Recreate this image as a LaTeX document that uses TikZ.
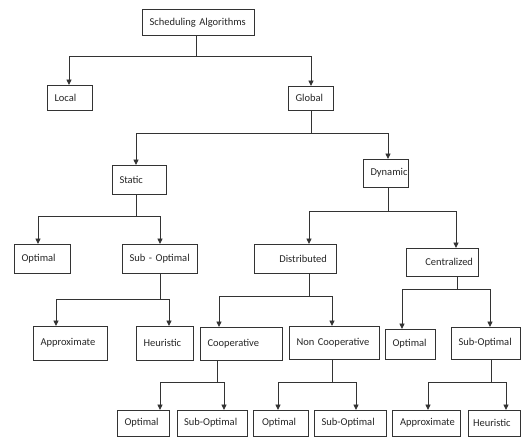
\documentclass[tikz,border=0pt]{standalone}
\usepackage{fontspec}
\setmainfont{Carlito}
\usetikzlibrary{arrows.meta}
\tikzset{
  x=1pt, y=-1pt,
  box/.style={draw=black!80, line width=1pt, fill=white, anchor=north west, outer sep=0pt,
    inner xsep=7.5pt, inner ysep=0pt, align=left, text=black!85,
    font=\fontsize{10.5}{12}\selectfont},
  conn/.style={draw=black!80, line width=0.9pt},
  arr/.style={conn, -{Triangle[length=5.5pt,width=5pt]}}
}
\newcommand\branchconn[7]{%
  % #1 parent, #2 left child, #3 right child, #4 drop x, #5 bar y, #6 left x, #7 right x
  \coordinate (#1d) at (#4,#5);
  \coordinate (#1l) at (#6,#5);
  \coordinate (#1r) at (#7,#5);
  \draw[conn] (#1d |- #1.south) -- (#1d);
  \draw[conn] (#1l) -- (#1r);
  \draw[arr] (#1l) -- (#1l |- #2.north);
  \draw[arr] (#1r) -- (#1r |- #3.north);
}
\begin{document}
\begin{tikzpicture}
\clip (0,0) rectangle (521,436);
\fill[white] (0,0) rectangle (521,436);

% level 0
\node[box, minimum width=112pt, minimum height=26pt, text width=97pt] (sa) at (142,10) {\mbox{Scheduling Algorithms}};
% level 1
\node[box, minimum width=45pt, minimum height=25pt, text width=30pt] (local) at (47,85) {Local};
\node[box, minimum width=45pt, minimum height=24pt, text width=30pt] (global) at (288,86) {Global};
% level 2
\node[box, minimum width=54pt, minimum height=29pt, text width=39pt] (static) at (112,165) {Static};
\node[box, minimum width=45pt, minimum height=28pt, text width=30pt] (dynamic) at (363,159) {Dynamic};
% level 3
\node[box, minimum width=56pt, minimum height=29pt, text width=41pt] (sopt) at (14,244) {Optimal};
\node[box, minimum width=75pt, minimum height=29pt, text width=60pt] (ssub) at (122,244) {\mbox{Sub - Optimal}};
\node[box, minimum width=82pt, minimum height=29pt, text width=64pt, inner xsep=9pt, align=right] (dist) at (254,244) {Distributed};
\node[box, minimum width=72pt, minimum height=28pt, text width=62pt, inner xsep=5pt, align=right] (cent) at (406,248) {Centralized};
% level 4
\node[box, minimum width=74pt, minimum height=34pt, text width=59pt] (sapprox) at (33,326) {Approximate};
\node[box, minimum width=57pt, minimum height=34pt, text width=42pt] (sheur) at (136,326) {Heuristic};
\node[box, minimum width=82pt, minimum height=33pt, text width=67pt] (coop) at (200,327) {Cooperative};
\node[box, minimum width=90pt, minimum height=33pt, text width=75pt] (ncoop) at (289,326) {\mbox{Non Cooperative}};
\node[box, minimum width=50pt, minimum height=30pt, text width=35pt] (copt) at (385,329) {Optimal};
\node[box, minimum width=69pt, minimum height=32pt, text width=54pt] (csub) at (451,327) {Sub-Optimal};
% level 5
\node[box, minimum width=52pt, minimum height=26pt, text width=37pt] (coopopt) at (117,410) {Optimal};
\node[box, minimum width=70pt, minimum height=26pt, text width=56pt, inner xsep=7pt] (coopsub) at (177,410) {Sub-Optimal};
\node[box, minimum width=55pt, minimum height=26pt, text width=37pt, inner xsep=9pt] (ncopt) at (253,410) {Optimal};
\node[box, minimum width=72pt, minimum height=26pt, text width=57pt] (ncsub) at (314,410) {Sub-Optimal};
\node[box, minimum width=68pt, minimum height=26pt, text width=52pt, inner xsep=8pt] (capprox) at (392,410) {Approximate};
\node[box, minimum width=52pt, minimum height=26pt, text width=42pt, inner xsep=5pt] (cheur) at (468,410) {Heuristic};

% connectors
\branchconn{sa}{local}{global}{196}{56}{69}{311}
\branchconn{global}{static}{dynamic}{311}{133}{136}{388}
\branchconn{static}{sopt}{ssub}{136}{216}{38}{160}
\branchconn{dynamic}{dist}{cent}{388}{211}{309}{456}
\branchconn{ssub}{sapprox}{sheur}{160}{299}{56}{169}
\branchconn{dist}{coop}{ncoop}{309}{296}{219}{332}
\branchconn{cent}{copt}{csub}{457}{289}{402}{490}
\branchconn{coop}{coopopt}{coopsub}{217}{382}{160}{224}
\branchconn{ncoop}{ncopt}{ncsub}{332}{382}{278}{356}
\branchconn{csub}{capprox}{cheur}{491}{382}{428}{506}
\end{tikzpicture}
\end{document}
